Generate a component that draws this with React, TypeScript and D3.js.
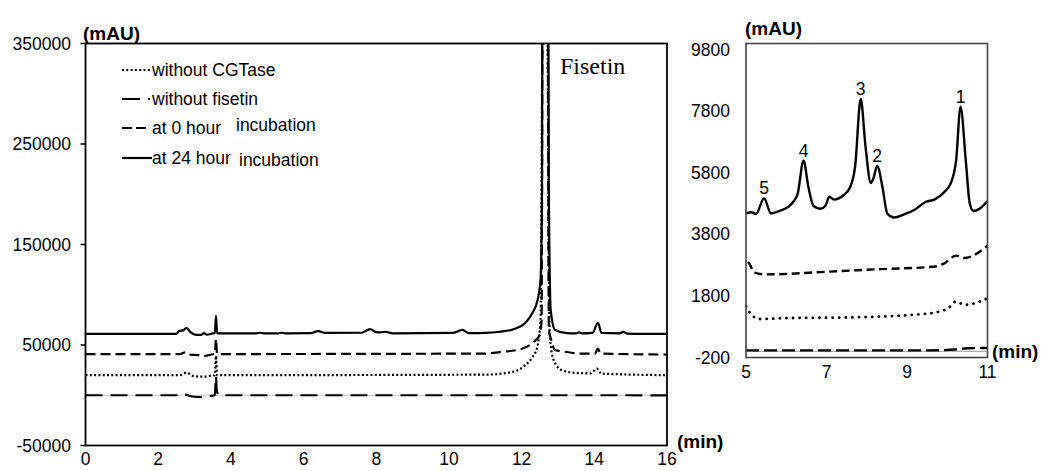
import * as d3 from "d3";
import React from "react";

// chromatogram traces, [time (min), signal (mAU)]
// main panel 0-16 min
const at24hMain: [number, number][] = [
  [0, 61000], [2.5, 61000], [2.58, 64000], [2.68, 64500], [2.78, 67000], [2.88, 63000],
  [3.04, 60000], [3.18, 60000], [3.26, 61800], [3.34, 60200], [3.5, 61500], [3.56, 62000],
  [3.59, 79000], [3.62, 62000], [3.68, 61500], [4.7, 61600], [4.8, 62200], [4.9, 61600],
  [5.3, 61600], [5.4, 62200], [5.5, 61600], [6.2, 61800], [6.4, 63800], [6.6, 62000],
  [7.6, 62200], [7.83, 65800], [8.0, 62800], [8.1, 62600], [8.24, 63200], [8.45, 61600],
  [10.1, 62000], [10.37, 65000], [10.55, 61800], [11.0, 62000], [11.4, 63200], [11.8, 66000],
  [12.1, 72000], [12.3, 82000], [12.44, 95000], [12.52, 115000], [12.56, 200000],
  [12.58, 600000], [12.72, 600000], [12.75, 200000], [12.8, 85000], [12.92, 65000],
  [13.25, 61800], [13.5, 61500], [13.58, 62600], [13.66, 61500], [13.95, 62000],
  [14.1, 72000], [14.2, 62000], [14.7, 61600], [14.8, 63200], [14.9, 61400], [16, 61000],
];
const at0hMain: [number, number][] = [
  [0, 41000], [2.6, 41000], [2.72, 42500], [2.8, 42800], [2.88, 40500], [3.1, 40000],
  [3.22, 38800], [3.34, 39500], [3.5, 40800], [3.56, 41000], [3.59, 56000], [3.62, 41000],
  [11.0, 41500], [11.4, 43000], [11.96, 45700], [12.33, 53000], [12.5, 60000], [12.55, 75000],
  [12.59, 600000], [12.7, 600000], [12.75, 65000], [12.8, 57000], [12.92, 45000],
  [13.25, 43000], [13.6, 41500], [14.02, 41500], [14.1, 46500], [14.17, 41500], [16, 40500],
];
const noCgtaseMain: [number, number][] = [
  [0, 20000], [2.6, 20000], [2.78, 22500], [2.98, 19000], [3.24, 18500], [3.45, 19500],
  [3.56, 20000], [3.59, 39000], [3.62, 20000], [11.0, 20500], [11.5, 21800], [11.87, 24500],
  [12.1, 30000], [12.3, 38000], [12.43, 48000], [12.52, 75000], [12.61, 600000],
  [12.67, 600000], [12.77, 62000], [12.88, 35000], [13.1, 25000], [13.5, 22200],
  [13.9, 21800], [14.07, 26500], [14.2, 21500], [16, 20000],
];
const noFisetinMain: [number, number][] = [
  [0, 0], [2.5, 0], [2.58, 1200], [2.72, 1000], [2.85, -500], [3.0, -1500], [3.2, -1800],
  [3.35, -1000], [3.5, -300], [3.56, 0], [3.59, 19000], [3.61, 5000], [3.66, 800],
  [3.75, 0], [14.6, 0], [14.75, 500], [14.9, 0], [16, -200],
];

// inset 5-11 min
const at24hInset: [number, number][] = [
  [5.0, 4480], [5.13, 4520], [5.25, 4460], [5.45, 4970], [5.62, 4480], [5.85, 4570],
  [6.06, 4700], [6.2, 4900], [6.28, 5100], [6.43, 6190], [6.55, 5340], [6.68, 4720],
  [6.85, 4630], [6.97, 4720], [7.07, 5020], [7.18, 4930], [7.42, 5070], [7.59, 5340],
  [7.71, 5990], [7.85, 8200], [7.97, 6640], [8.1, 5470], [8.16, 5600], [8.26, 6020],
  [8.39, 5340], [8.51, 4480], [8.68, 4350], [8.93, 4450], [9.18, 4590], [9.47, 4860],
  [9.68, 4930], [9.93, 5180], [10.1, 5500], [10.22, 6200], [10.33, 7950], [10.46, 6200],
  [10.56, 4800], [10.65, 4560], [10.79, 4620], [11.0, 4880],
];
const at0hInset: [number, number][] = [
  [5.05, 2900], [5.1, 2810], [5.2, 2560], [5.5, 2500], [7.08, 2590], [8.33, 2670],
  [9.66, 2750], [9.93, 2860], [10.22, 3110], [10.43, 3030], [10.64, 3110], [11.0, 3430],
];
const noCgtaseInset: [number, number][] = [
  [5.0, 1460], [5.1, 1250], [5.33, 1050], [6.0, 1080], [7.5, 1100], [9.17, 1190],
  [9.83, 1300], [10.05, 1430], [10.22, 1620], [10.43, 1510], [10.68, 1560], [11.0, 1730],
];
const noFisetinInset: [number, number][] = [
  [5.0, 30], [9.5, 30], [10.2, 60], [10.5, 100], [11.0, 110],
];

const insetPeakLabels = [
  { label: "5", t: 5.45, v: 4970 },
  { label: "4", t: 6.43, v: 6190 },
  { label: "3", t: 7.85, v: 8200 },
  { label: "2", t: 8.26, v: 6020 },
  { label: "1", t: 10.33, v: 7950 },
];

const mainXTicks = [0, 2, 4, 6, 8, 10, 12, 14, 16];
const mainYTicks = [-50000, 50000, 150000, 250000, 350000];
const insetXTicks = [5, 7, 9, 11];
const insetYTicks = [-200, 1800, 3800, 5800, 7800, 9800];

const FONT = "Arial, 'Liberation Sans', sans-serif";

export default function App() {
  const x1 = d3.scaleLinear().domain([0, 16]).range([85.5, 667]);
  const y1 = d3.scaleLinear().domain([-50000, 350000]).range([445.5, 43.5]);
  const x2 = d3.scaleLinear().domain([5, 11]).range([746, 987.5]);
  const y2 = d3.scaleLinear().domain([-200, 10000]).range([357.5, 43.5]);

  const line1 = d3.line<[number, number]>()
    .x((d) => x1(d[0]))
    .y((d) => y1(d[1]))
    .curve(d3.curveMonotoneX);
  const line2 = d3.line<[number, number]>()
    .x((d) => x2(d[0]))
    .y((d) => y2(d[1]))
    .curve(d3.curveMonotoneX);

  const [l1, r1] = x1.range();
  const [b1, t1] = y1.range();
  const [l2, r2] = x2.range();
  const [b2, t2] = y2.range();

  return (
    <svg width={1041} height={471} style={{ position: "absolute", left: 0, top: 0, background: "#fff" }}
      fontFamily={FONT}>
      <defs>
        <clipPath id="clipMain"><rect x={l1} y={t1} width={r1 - l1} height={b1 - t1} /></clipPath>
        <clipPath id="clipInset"><rect x={l2} y={t2} width={r2 - l2} height={b2 - t2} /></clipPath>
      </defs>

      {/* main panel */}
      <line x1={l1} x2={r1} y1={y1(0)} y2={y1(0)} stroke="#c8c8c8" strokeWidth={1} />
      <g clipPath="url(#clipMain)" fill="none" stroke="#000" strokeWidth={2.2}>
        <path d={line1(noFisetinMain) ?? ""} strokeDasharray="17,8" />
        <path d={line1(noCgtaseMain) ?? ""} strokeDasharray="2,2.3" />
        <path d={line1(at0hMain) ?? ""} strokeDasharray="10,5" />
        <path d={line1(at24hMain) ?? ""} />
      </g>
      <rect x={l1} y={t1} width={r1 - l1} height={b1 - t1} fill="none" stroke="#000" strokeWidth={1.8} />
      {mainYTicks.map((v) => (
        <g key={v}>
          <line x1={l1 - 5} x2={l1} y1={y1(v)} y2={y1(v)} stroke="#000" strokeWidth={1.5} />
          <text x={71} y={y1(v)} dy="0.35em" textAnchor="end" fontSize={17.5}>{v}</text>
        </g>
      ))}
      {mainXTicks.map((t) => (
        <text key={t} x={x1(t)} y={459} dy="0.35em" textAnchor="middle" fontSize={17.5}>{t}</text>
      ))}
      <text x={83} y={33} dy="0.35em" fontSize={19} fontWeight="bold">(mAU)</text>
      <text x={677} y={441} dy="0.35em" fontSize={19} fontWeight="bold">(min)</text>
      <text x={560} y={74} fontSize={24} fontFamily="'Times New Roman', 'Liberation Serif', serif">Fisetin</text>

      {/* legend */}
      <g fill="none" stroke="#000" strokeWidth={2.2}>
        <line x1={122} x2={150} y1={70} y2={70} strokeDasharray="2,2.3" />
        <line x1={122} x2={150} y1={99} y2={99} strokeDasharray="18,8" />
        <line x1={122} x2={148} y1={128} y2={128} strokeDasharray="10,4" />
        <line x1={122} x2={152} y1={158} y2={158} />
      </g>
      <g fontSize={17.5}>
        <text x={152} y={70} dy="0.35em">without CGTase</text>
        <text x={152} y={99} dy="0.35em">without fisetin</text>
        <text x={152} y={128} dy="0.35em">at 0 hour</text>
        <text x={236} y={125} dy="0.35em">incubation</text>
        <text x={152} y={158} dy="0.35em">at 24 hour</text>
        <text x={239} y={160} dy="0.35em">incubation</text>
      </g>

      {/* inset panel */}
      <line x1={l2} x2={r2} y1={y2(0)} y2={y2(0)} stroke="#a0a0a0" strokeWidth={1} />
      <g clipPath="url(#clipInset)" fill="none" stroke="#000" strokeWidth={2.4}>
        <path d={line2(noFisetinInset) ?? ""} strokeDasharray="13,5" />
        <path d={line2(noCgtaseInset) ?? ""} strokeDasharray="0.1,6.5" strokeLinecap="round" strokeWidth={2.8} />
        <path d={line2(at0hInset) ?? ""} strokeDasharray="8,4.5" />
        <path d={line2(at24hInset) ?? ""} />
      </g>
      <rect x={l2} y={t2} width={r2 - l2} height={b2 - t2} fill="none" stroke="#444" strokeWidth={1.6} />
      {insetYTicks.map((v) => (
        <text key={v} x={730} y={y2(v)} dy="0.35em" textAnchor="end" fontSize={17.5}>{v}</text>
      ))}
      {insetXTicks.map((t) => (
        <text key={t} x={x2(t)} y={372} dy="0.35em" textAnchor="middle" fontSize={17.5}>{t}</text>
      ))}
      {insetPeakLabels.map((p) => (
        <text key={p.label} x={x2(p.t)} y={y2(p.v) - 4} textAnchor="middle" fontSize={17.5}>{p.label}</text>
      ))}
      <text x={745} y={28} dy="0.35em" fontSize={19} fontWeight="bold">(mAU)</text>
      <text x={992} y={351} dy="0.35em" fontSize={19} fontWeight="bold">(min)</text>
    </svg>
  );
}
